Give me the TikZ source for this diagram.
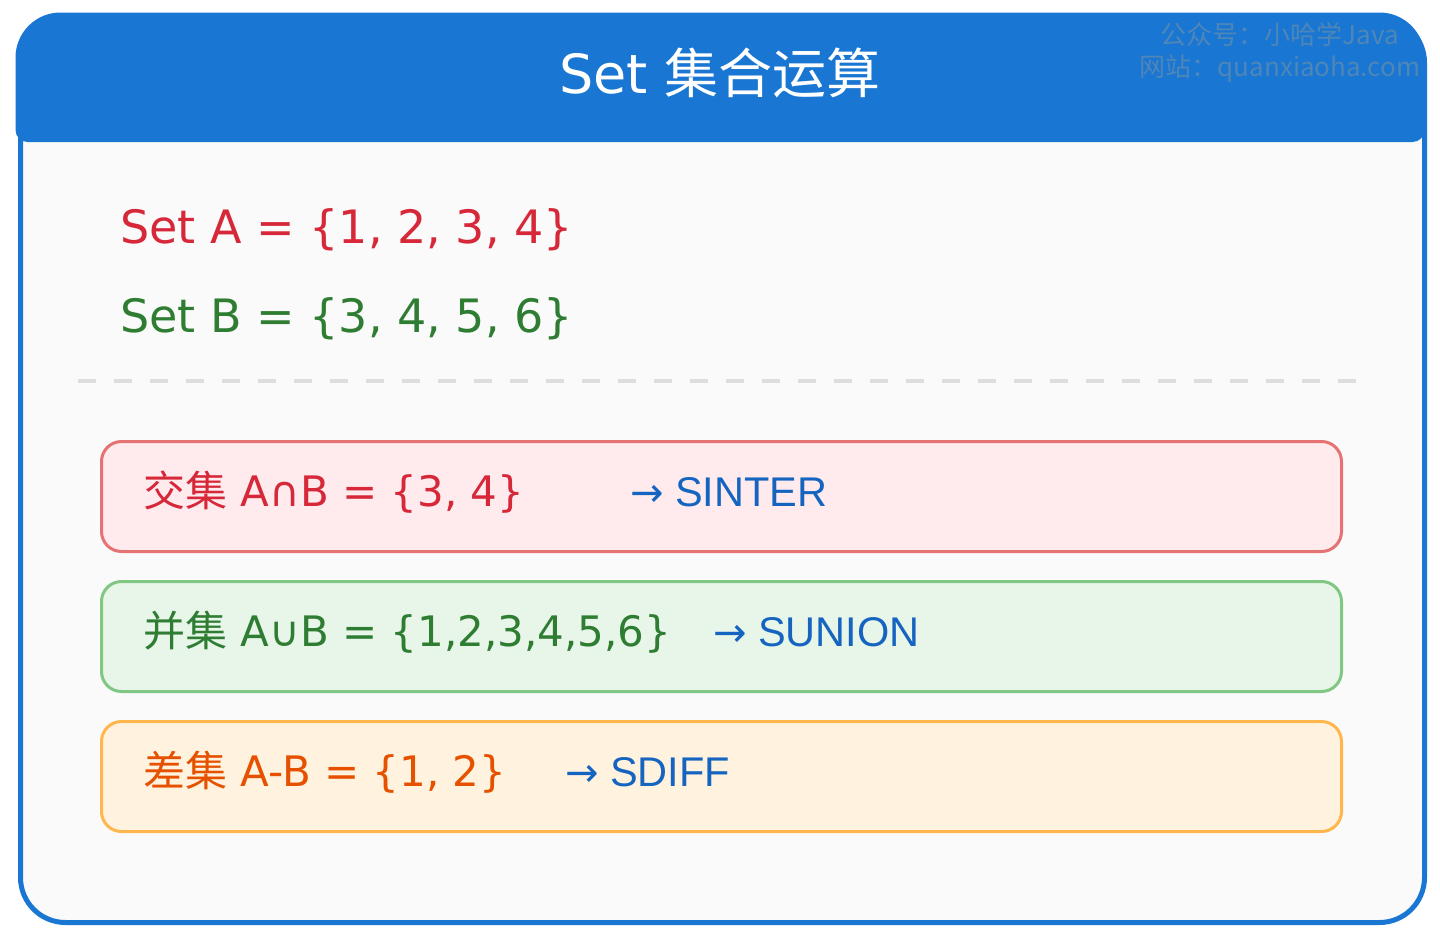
\documentclass[tikz,border=0pt]{standalone}
\usepackage{fontspec}
\setmainfont{DejaVu Sans}
\newfontfamily\cjk{Noto Sans CJK SC}
\newfontfamily\kwfont{Liberation Sans}
\newfontfamily\arrfont{DejaVu Sans}
\usetikzlibrary{positioning}

\definecolor{hdrblue}{HTML}{1976D2}
\definecolor{bodybg}{HTML}{FAFAFA}
\definecolor{dashgray}{HTML}{DDDDDD}
\definecolor{setred}{HTML}{D62839}
\definecolor{setgreen}{HTML}{2E7D32}
\definecolor{setorange}{HTML}{E65100}
\definecolor{cmdblue}{HTML}{1565C0}
\definecolor{interfill}{HTML}{FFEBEE}
\definecolor{interline}{HTML}{E57373}
\definecolor{unionfill}{HTML}{E8F5E9}
\definecolor{unionline}{HTML}{81C784}
\definecolor{difffill}{HTML}{FFF3E0}
\definecolor{diffline}{HTML}{FFB74D}
\definecolor{wmark}{HTML}{4E86B8}

\tikzset{
    opbox/.style = {draw, rectangle, rounded corners=20pt, line width=3pt, minimum width=1240pt, minimum height=110pt, anchor=north west, inner sep=0pt},
    inter/.style = {opbox, draw=interline, fill=interfill},
    union/.style = {opbox, draw=unionline, fill=unionfill},
    diff/.style  = {opbox, draw=diffline, fill=difffill},
    hand/.style  = {anchor=base west, inner sep=0pt, font=\fontsize{42}{48}\selectfont},
    bighand/.style = {hand, font=\fontsize{46}{52}\selectfont},
    cmd/.style   = {anchor=base west, inner sep=0pt, text=cmdblue, font=\kwfont\fontsize{41.5}{48}\selectfont},
}
\newcommand{\arr}{{\arrfont\fontsize{40}{44}\selectfont →}}

\begin{document}
\begin{tikzpicture}[x=1pt, y=-1pt]
  \useasboundingbox (0,0) rectangle (1440,940);
  % frame and blue header
  \node [name=frame, draw=hdrblue, fill=bodybg, line width=5pt, rounded corners=45pt, minimum width=1404pt, minimum height=905pt, anchor=north west, inner sep=0pt] at (18,15) {};
  \fill [hdrblue] (15.5,100) [rounded corners=45pt] -- (15.5,12.5) -- (1424.5,12.5) [rounded corners=12pt] -- (1424.5,142) -- (15.5,142) [sharp corners] -- cycle;
  \node [name=title, text=white, font=\fontsize{54}{60}\selectfont] at (720,73) {Set {\cjk 集合运算}};
  \node [name=wm, text=wmark, align=center, font=\cjk\fontsize{26}{32}\selectfont] at (1280,52) {公众号：小哈学Java\\网站：quanxiaoha.com};
  % the two sets
  \node [name=seta, bighand, text=setred] at (120,243) {Set A = \{1, 2, 3, 4\}};
  \node [name=setb, bighand, text=setgreen] at (120,332) {Set B = \{3, 4, 5, 6\}};
  \draw [dashgray, line width=3.5pt, dash pattern=on 18pt off 18pt] (78,381) -- (1358,381);
  % operations
  \node [name=r1, inter] at (100,440) {};
  \node [name=r2, union] at (100,580) {};
  \node [name=r3, diff] at (100,720) {};
  \node [name=r1t, hand, text=setred] at (143,506) {{\cjk 交集} A∩B = \{3, 4\}};
  \node [name=r2t, hand, text=setgreen] at (143,646) {{\cjk 并集} A∪B = \{1,2,3,4,5,6\}};
  \node [name=r3t, hand, text=setorange] at (143,786) {{\cjk 差集} A-B = \{1, 2\}};
  \node [name=r1c, cmd] at (630,506) {\arr{} SINTER};
  \node [name=r2c, cmd] at (713,646) {\arr{} SUNION};
  \node [name=r3c, cmd] at (565,786) {\arr{} SDIFF};
\end{tikzpicture}
\end{document}
